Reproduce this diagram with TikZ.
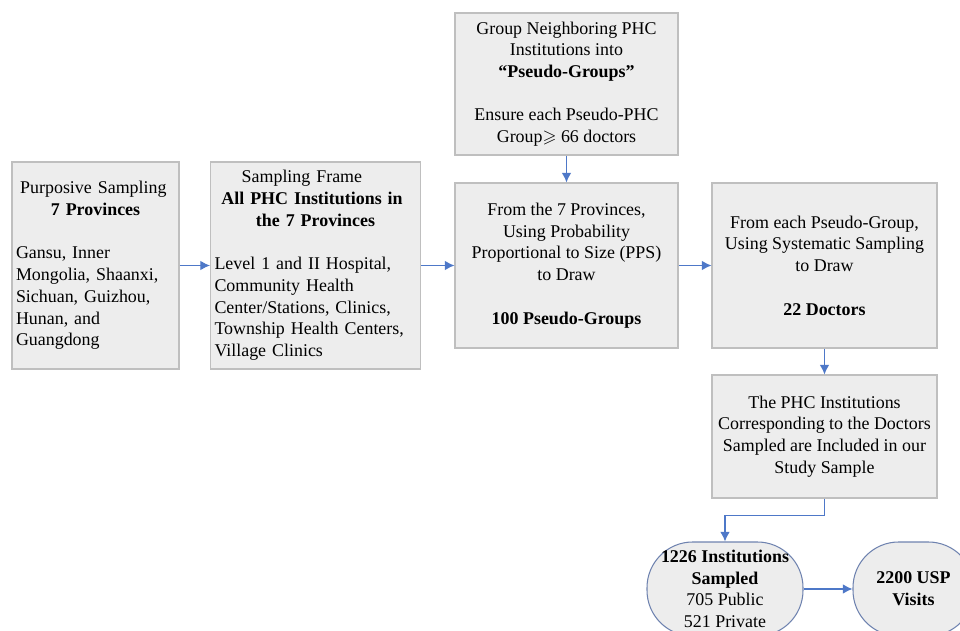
\documentclass[tikz,border=0pt]{standalone}
\usepackage{amssymb}
\usepackage{fontspec}
\setmainfont{Liberation Serif}
\usetikzlibrary{arrows.meta}
\colorlet{boxfill}{black!7}
\colorlet{boxline}{black!25}
\definecolor{flowblue}{RGB}{78,120,200}
\definecolor{roundline}{RGB}{110,130,175}
\newcommand\boxfont{\fontsize{10.2pt}{12.36pt}\selectfont}
\newcommand\gap{\par\mbox{}\par}
\tikzset{
  stepbox/.style={draw=boxline, fill=boxfill, line width=0.6pt, inner xsep=0.08cm,
    inner ysep=0pt, font=\boxfont, align=center},
  roundbox/.style={stepbox, draw=roundline, rounded corners=26pt},
  flow/.style={draw=flowblue, line width=0.7pt, -{Latex[length=5.5pt,width=5.5pt]}},
}
\begin{document}
\begin{tikzpicture}[x=0.02cm,y=-0.02cm]
  \useasboundingbox (0,0) rectangle (960,631);
  \clip (0,0) rectangle (960,631);
  % boxes
  \node[stepbox, minimum width=167*0.02cm, minimum height=207*0.02cm,
    text width=159*0.02cm, align=left] (prov) at (95.5,265.5)
    {\centering Purposive Sampling\newline\textbf{7 Provinces}\gap
     \raggedright Gansu, Inner\newline Mongolia, Shaanxi,\newline Sichuan, Guizhou,\newline
     Hunan, and\newline Guangdong\par};
  \node[stepbox, minimum width=209*0.02cm, minimum height=207*0.02cm,
    text width=202*0.02cm, align=left] (frame) at (315.5,265.5)
    {\centering Sampling Frame\newline\textbf{All PHC Institutions in}\newline
     \textbf{the 7 Provinces}\gap
     \raggedright Level 1 and II Hospital,\newline Community Health\newline
     Center/Stations, Clinics,\newline Township Health Centers,\newline Village Clinics\par};
  \node[stepbox, minimum width=223*0.02cm, minimum height=142*0.02cm] (group) at (566.5,84)
    {Group Neighboring PHC\\ Institutions into\\ \textbf{“Pseudo-Groups”}\\[12.36pt]
     Ensure each Pseudo-PHC\\ Group$\geqslant$ 66 doctors};
  \node[stepbox, minimum width=223*0.02cm, minimum height=165*0.02cm] (pps) at (566.5,265.5)
    {From the 7 Provinces,\\ Using Probability\\ Proportional to Size (PPS)\\ to Draw\\[12.36pt]
     \textbf{100 Pseudo-Groups}};
  \node[stepbox, minimum width=225*0.02cm, minimum height=165*0.02cm] (sys) at (824.5,265.5)
    {From each Pseudo-Group,\\ Using Systematic Sampling\\ to Draw\\[12.36pt]
     \textbf{22 Doctors}};
  \node[stepbox, minimum width=225*0.02cm, minimum height=123*0.02cm] (incl) at (824.5,436.5)
    {The PHC Institutions\\ Corresponding to the Doctors\\ Sampled are Included in our\\
     Study Sample};
  \node[roundbox, minimum width=156*0.02cm, minimum height=94*0.02cm] (inst) at (725,589)
    {\textbf{1226 Institutions}\\ \textbf{Sampled}\\ 705 Public\\ 521 Private};
  \node[roundbox, minimum width=121*0.02cm, minimum height=94*0.02cm] (usp) at (913.5,589)
    {\textbf{2200 USP}\\ \textbf{Visits}};
  % connectors
  \draw[flow] (prov) -- (frame);
  \draw[flow] (frame) -- (pps);
  \draw[flow] (pps) -- (sys);
  \draw[flow] (group) -- (pps);
  \draw[flow] (sys) -- (incl);
  \draw[flow] (incl.south) -- ++(0,17) -| (inst.north);
  \draw[flow] (inst) -- (usp);
\end{tikzpicture}
\end{document}
